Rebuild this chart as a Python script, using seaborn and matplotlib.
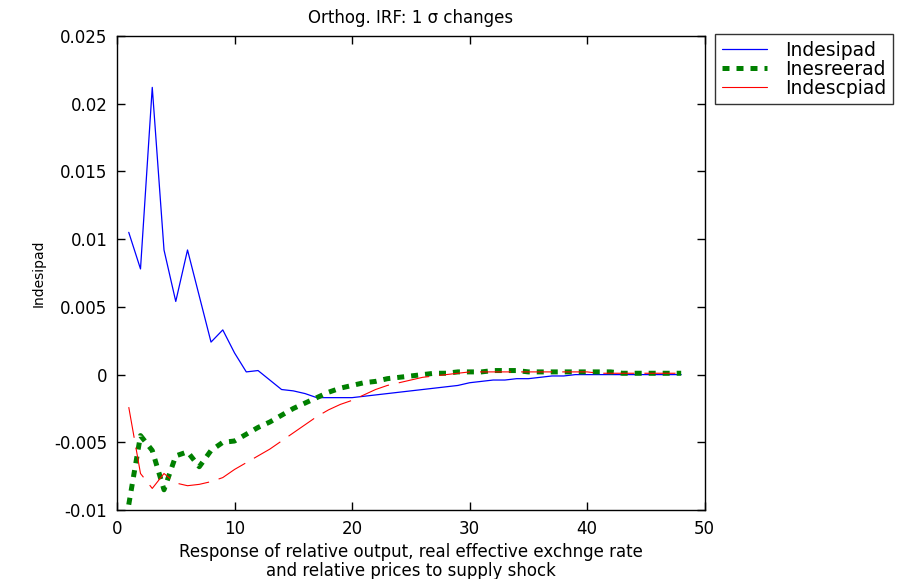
import numpy as np
import pandas as pd
import matplotlib
matplotlib.use("Agg")
import matplotlib.pyplot as plt
import seaborn as sns
from matplotlib.lines import Line2D
from matplotlib.ticker import FixedLocator, FuncFormatter

# Impulse responses, horizons 1..48
horizon = list(range(1, 49))

indesipad = [0.0105, 0.0078, 0.0212, 0.0092, 0.0054, 0.0092, 0.0058, 0.0024, 0.0033, 0.0016,
             0.0002, 0.0003, -0.0004, -0.0011, -0.0012, -0.0014, -0.0017, -0.0017, -0.0017, -0.0017,
             -0.0016, -0.0015, -0.0014, -0.0013, -0.0012, -0.0011, -0.0010, -0.0009, -0.0008, -0.0006,
             -0.0005, -0.0004, -0.0004, -0.0003, -0.0003, -0.0002, -0.0001, -0.0001, 0.0, 0.0,
             0.0, 0.0, 0.0, 0.0, 0.0, 0.0, 0.0, 0.0]

inesreerad = [-0.0096, -0.0045, -0.0056, -0.0085, -0.0060, -0.0057, -0.0068, -0.0056, -0.0050, -0.0049,
              -0.0044, -0.0039, -0.0035, -0.0030, -0.0025, -0.0021, -0.0017, -0.0013, -0.0010, -0.0008,
              -0.0006, -0.0005, -0.0003, -0.0002, -0.0001, 0.0000, 0.0001, 0.0001, 0.0002, 0.0002,
              0.0002, 0.0003, 0.0003, 0.0003, 0.0002, 0.0002, 0.0002, 0.0002, 0.0002, 0.0002,
              0.0002, 0.0002, 0.0001, 0.0001, 0.0001, 0.0001, 0.0001, 0.0001]

indescpiad = [-0.0024, -0.0073, -0.0084, -0.0073, -0.0080, -0.0082, -0.0081, -0.0079, -0.0076, -0.0070,
              -0.0065, -0.0060, -0.0055, -0.0049, -0.0043, -0.0037, -0.0031, -0.0026, -0.0022, -0.0019,
              -0.0015, -0.0011, -0.0008, -0.0006, -0.0004, -0.0002, -0.0001, 0.0000, 0.0001, 0.0002,
              0.0002, 0.0002, 0.0002, 0.0002, 0.0002, 0.0002, 0.0002, 0.0002, 0.0002, 0.0002,
              0.0001, 0.0001, 0.0001, 0.0001, 0.0001, 0.0001, 0.0001, 0.0001]

series_names = ["Indesipad", "Inesreerad", "Indescpiad"]
x_ticks = [0, 10, 20, 30, 40, 50]
y_ticks = [-0.01, -0.005, 0.0, 0.005, 0.01, 0.015, 0.02, 0.025]

sns.set_theme(style="white")
plt.rcParams["font.family"] = ["DejaVu Sans"]
plt.rcParams["axes.unicode_minus"] = False
plt.rcParams["text.color"] = "black"
plt.rcParams["axes.labelcolor"] = "black"

fig = plt.figure(figsize=(9.14, 5.79), dpi=100)
ax = fig.add_axes([0.128, 0.119, 0.643, 0.819])

df = pd.DataFrame({"h": horizon, "a": indesipad, "b": inesreerad, "c": indescpiad})

blue, green, red = "#0000FF", "#008000", "#FF0000"

sns.lineplot(data=df, x="h", y="a", ax=ax, color=blue, linewidth=0.9, legend=False)
sns.lineplot(data=df, x="h", y="b", ax=ax, color=green, linewidth=3.6, legend=False)
ax.lines[-1].set_dashes((1.4, 1.4))
ax.lines[-1].set_dash_capstyle("butt")
sns.lineplot(data=df, x="h", y="c", ax=ax, color=red, linewidth=0.8, legend=False)
ax.lines[-1].set_dashes((28, 9))

ax.set_xlim(0, 50)
ax.set_ylim(-0.01, 0.025)
ax.xaxis.set_major_locator(FixedLocator(x_ticks))
ax.yaxis.set_major_locator(FixedLocator(y_ticks))
ax.yaxis.set_major_formatter(FuncFormatter(lambda v, p: "%g" % round(v, 6)))
ax.tick_params(axis="both", which="major", direction="in", length=6, width=1.0,
               top=True, right=True, bottom=True, left=True,
               labelsize=12, colors="black", pad=7)

for s in ax.spines.values():
    s.set_visible(True)
    s.set_color("black")
    s.set_linewidth(1.0)

ax.set_title("Orthog. IRF: 1 \u03c3 changes", fontsize=12, pad=9, color="black")
ax.set_xlabel("Response of relative output, real effective exchnge rate\n"
              "and relative prices to supply shock", fontsize=12, labelpad=4,
              linespacing=1.05, color="black")
ax.set_ylabel("Indesipad", fontsize=10, labelpad=6, color="black")

# legend keys: short samples of each line style
h_blue = Line2D([], [], color=blue, linewidth=0.9)
h_green = Line2D([], [], color=green, linewidth=3.6, dashes=(1.4, 1.4),
                 dash_capstyle="butt")
h_red = Line2D([], [], color=red, linewidth=0.8)
leg = fig.legend([h_blue, h_green, h_red], series_names, loc="upper left",
                 bbox_to_anchor=(715 / 914, 1 - 34 / 579),
                 bbox_transform=fig.transFigure,
                 fontsize=13.5, frameon=True, fancybox=False, shadow=False,
                 handlelength=2.4, handletextpad=1.0, labelspacing=0.0,
                 borderpad=0.35, borderaxespad=0.0)
leg.get_frame().set_edgecolor("black")
leg.get_frame().set_linewidth(1.0)
for t in leg.get_texts():
    t.set_color("black")

fig.savefig("out.png", dpi=100, facecolor="white")
